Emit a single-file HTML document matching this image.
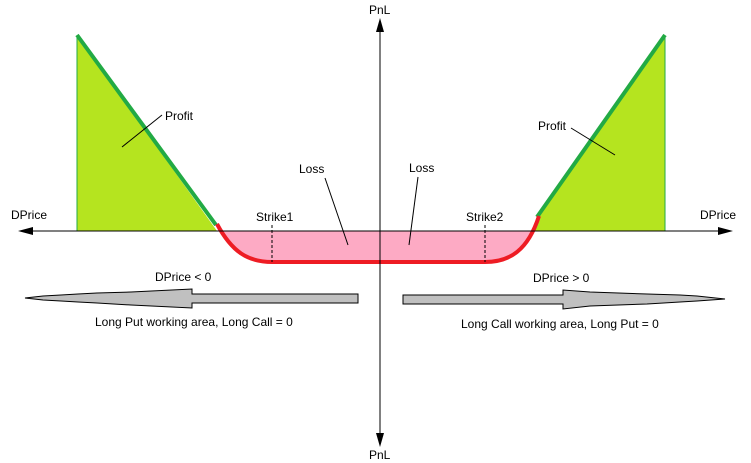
<!DOCTYPE html>
<html><head><style>body{margin:0;background:#fff}svg{display:block}text{font-family:"Liberation Sans",Arial,sans-serif;font-size:12px;fill:#000}</style></head>
<body>
<svg width="751" height="463" viewBox="0 0 751 463">
<polygon points="77,35 77,231 217,231" fill="#b5e41f"/>
<polygon points="538,215 665,35 665,231 533,231" fill="#b5e41f"/>
<line x1="77" y1="36" x2="77" y2="231" stroke="#22aa44" stroke-width="1"/>
<line x1="665" y1="36" x2="665" y2="231" stroke="#22aa44" stroke-width="1"/>
<path d="M219,231 C235,255 250,262 272,262 L485,262 C510,262 525,250 533,231 Z" fill="#fdaac4"/>
<line x1="77" y1="35" x2="216" y2="225" stroke="#22aa44" stroke-width="4"/>
<line x1="537" y1="217" x2="665" y2="35" stroke="#22aa44" stroke-width="4"/>
<path d="M217,224 C232,252 248,262 272,262 L485,262 C510,262 528,250 539,216" fill="none" stroke="#ee1c24" stroke-width="4"/>
<line x1="272" y1="225" x2="272" y2="262" stroke="#000" stroke-dasharray="3,2"/>
<line x1="485" y1="225" x2="485" y2="262" stroke="#000" stroke-dasharray="3,2"/>
<line x1="20" y1="231" x2="730" y2="231" stroke="#000"/>
<polygon points="18,231 33,227 33,235" fill="#000"/>
<polygon points="733,231 718,227 718,235" fill="#000"/>
<line x1="380" y1="20" x2="380" y2="445" stroke="#000"/>
<polygon points="380,18 376,32 384,32" fill="#000"/>
<polygon points="380,447 376,433 384,433" fill="#000"/>
<line x1="122" y1="147" x2="162" y2="115" stroke="#000"/>
<line x1="325" y1="178" x2="348" y2="245" stroke="#000"/>
<line x1="418" y1="177" x2="409" y2="245" stroke="#000"/>
<line x1="571" y1="128" x2="615" y2="155" stroke="#000"/>
<polygon points="358,294 192,294 192,289 131,292 97,293 78,294 61,295 43,296 25,298 43,300 61,301 78,302 97,303 131,305 192,308 192,303 358,303" fill="#c0c0c0" stroke="#000" stroke-width="1"/>
<polygon points="403,295 563,295 563,290 590,292 647,294 680,295 697,296 725,299 697,301 680,302 647,304 590,306 563,309 563,304 403,304" fill="#c0c0c0" stroke="#000" stroke-width="1"/>
<text x="369" y="14">PnL</text>
<text x="369" y="459">PnL</text>
<text x="11" y="219">DPrice</text>
<text x="700" y="219">DPrice</text>
<text x="165" y="120">Profit</text>
<text x="538" y="130">Profit</text>
<text x="299" y="173">Loss</text>
<text x="409" y="172">Loss</text>
<text x="256" y="221">Strike1</text>
<text x="466" y="221">Strike2</text>
<text x="155" y="281">DPrice &lt; 0</text>
<text x="533" y="282">DPrice &gt; 0</text>
<text x="95" y="326">Long Put working area, Long Call = 0</text>
<text x="461" y="328">Long Call working area,  Long Put = 0</text>
</svg>
</body></html>
